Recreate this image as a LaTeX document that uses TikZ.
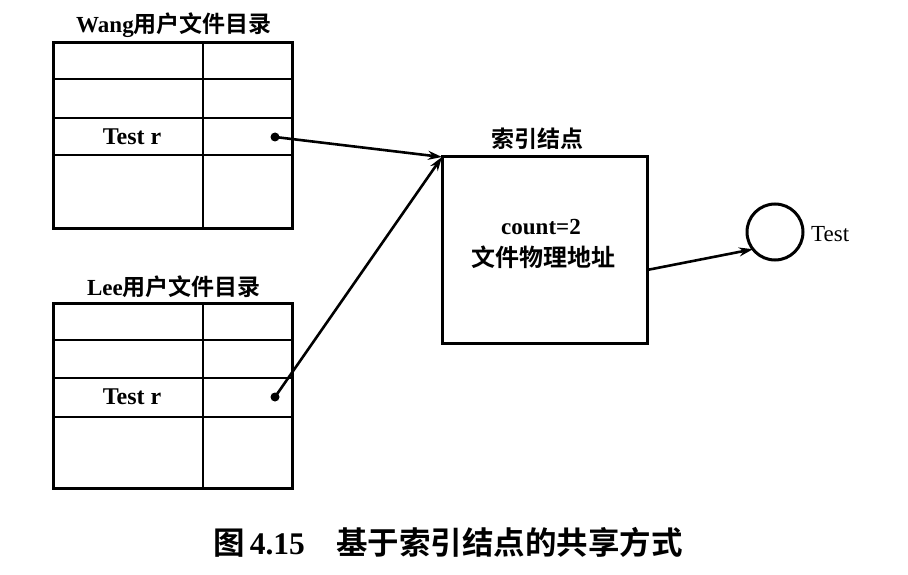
\documentclass[tikz,border=0pt]{standalone}
\usepackage{fontspec}
\setmainfont{Liberation Serif}
\newfontfamily\cjk{Noto Sans CJK SC}[BoldFont={Noto Sans CJK SC Bold}]
\usetikzlibrary{arrows.meta,calc}
\begin{document}
\begin{tikzpicture}[x=1pt,y=-1pt,
  tablebox/.style={draw,line width=3pt,minimum width=239pt,minimum height=185pt,inner sep=0pt,outer sep=0pt},
  grid/.style={line width=2.6pt},
  lbl/.style={font=\fontsize{23}{25}\selectfont\bfseries,inner sep=1pt},
  ptr/.style={line width=2.6pt,-{Stealth[length=14pt,width=9pt]}},
  dotnode/.style={circle,fill=black,inner sep=0pt,minimum size=9pt},
  inodebox/.style={draw,line width=3pt,minimum width=205pt,minimum height=186pt,inner sep=0pt,outer sep=0pt},
  filecirc/.style={draw,circle,line width=3pt,minimum size=56pt,inner sep=0pt,outer sep=0pt}]
\useasboundingbox (0,0) rectangle (908,575);
% Wang table
\node[tablebox] (wang) at (172.5,135.5) {};
\draw[grid] (53,79) -- (292,79) (53,118) -- (292,118) (53,155) -- (292,155) (203,43) -- (203,228);
\node[lbl] (wangt) at (174,25) {Wang{\cjk 用户文件目录}};
\node[lbl,font=\fontsize{24}{26}\selectfont\bfseries] (wangr) at (132,137) {Test r};
\node[dotnode] (wdot) at (275,137) {};
% Lee table
\node[tablebox] (lee) at (172.5,395.5) {};
\draw[grid] (53,340) -- (292,340) (53,378) -- (292,378) (53,417) -- (292,417) (203,303) -- (203,488);
\node[lbl] (leet) at (174,287) {Lee{\cjk 用户文件目录}};
\node[lbl,font=\fontsize{24}{26}\selectfont\bfseries] (leer) at (132,397) {Test r};
\node[dotnode] (ldot) at (275,397) {};
% index node
\node[inodebox] (inode) at (544.5,250) {};
\node[lbl] (inodet) at (537,139) {\cjk 索引结点};
\node[lbl] (cnt) at (541,227) {count=2};
\node[lbl,font=\fontsize{24}{26}\selectfont\bfseries] (addr) at (543,257) {\cjk 文件物理地址};
% file
\node[filecirc] (file) at (775,232) {};
\node[font=\fontsize{23}{25}\selectfont,anchor=west,inner sep=1pt] (filet) at (810,234) {Test};
% arrows
\draw[ptr] (wdot.center) -- (inode.north west);
\draw[ptr] (ldot.center) -- (inode.north west);
\coordinate (iout) at (647,270);
\draw[ptr] (iout) -- (file.218);
% caption
\node[font=\fontsize{31.5}{33}\selectfont\bfseries,inner sep=0pt] (cap) at (448,542) {{\cjk 图}\,4.15\quad{\cjk 基于索引结点的共享方式}};
\end{tikzpicture}
\end{document}
